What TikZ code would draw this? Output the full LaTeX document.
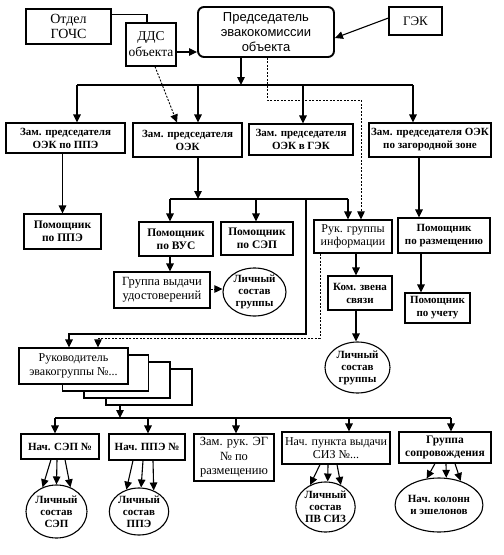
\documentclass[tikz,border=0pt]{standalone}
\usepackage{fontspec}
\setmainfont{Liberation Serif}
\setsansfont{Liberation Sans}
\usetikzlibrary{arrows.meta,calc,shapes.geometric}
\begin{document}
\begin{tikzpicture}[x=1pt,y=-1pt,
  sz/.style 2 args={minimum width=#1pt,minimum height=#2pt},
  box/.style={draw,line width=1.1pt,align=center,inner sep=1pt,fill=white},
  bb/.style={box,font=\bfseries\fontsize{11}{13}\selectfont},
  rb/.style={box,font=\fontsize{12}{13.5}\selectfont},
  circ/.style={draw,ellipse,line width=1.1pt,align=center,inner sep=0pt,fill=white,font=\bfseries\fontsize{11}{12}\selectfont},
  tip/.style={-{Triangle[length=8pt,width=7.5pt]}},
  arr/.style={line width=1.1pt,tip},
  ln/.style={line width=1.1pt},
  dsh/.style={line width=0.9pt,dash pattern=on 2pt off 1.5pt,tip},
]
\useasboundingbox (0,0) rectangle (504,555);
% top row
\node[box,sz={85}{35},font=\fontsize{14}{15}\selectfont] (gochs) at (68.5,26.5) {Отдел\\ГОЧС};
\node[box,sz={50}{43},font=\fontsize{13.5}{16}\selectfont] (dds) at (151,44.5) {ДДС\\объекта};
\node[box,sz={136}{50},line width=1.9pt,rounded corners=6pt,font=\sffamily\fontsize{13}{15}\selectfont] (pred) at (266,32) {Председатель\\эвакокомиссии\\объекта};
\node[box,sz={53}{28},font=\fontsize{13}{15}\selectfont] (gek) at (415.5,21) {ГЭК};
% deputies
\node[bb,sz={119}{30}] (z1) at (65.5,138) {Зам. председателя\\ОЭК по ППЭ};
\node[bb,sz={109}{34}] (z2) at (187.5,140) {Зам. председателя\\ОЭК};
\node[bb,sz={104}{31}] (z3) at (301,139.5) {Зам. председателя\\ОЭК в ГЭК};
\node[bb,sz={122}{34}] (z4) at (430,140) {Зам. председателя ОЭК\\по загородной зоне};
% assistants
\node[bb,sz={77}{35},font=\bfseries\fontsize{11.5}{13}\selectfont] (pppe) at (62.5,231.5) {Помощник\\по ППЭ};
\node[bb,sz={74}{34},font=\bfseries\fontsize{11.5}{13}\selectfont] (vus) at (176,239) {Помощник\\по ВУС};
\node[bb,sz={72}{33},font=\bfseries\fontsize{11.5}{13}\selectfont] (sep) at (257,238.5) {Помощник\\по СЭП};
\node[rb,sz={78}{33}] (info) at (353,236.5) {Рук. группы\\информации};
\node[bb,sz={92}{35}] (razm) at (444,235.5) {Помощник\\по размещению};
\node[rb,sz={96}{36},font=\fontsize{12.5}{14}\selectfont] (vyd) at (162,290) {Группа выдачи\\удостоверений};
\node[circ,sz={63}{47}] (lich1) at (254.5,292) {Личный\\состав\\группы};
\node[bb,sz={64}{34}] (kom) at (360,293) {Ком. звена\\связи};
\node[bb,sz={65}{30}] (uchet) at (437.5,308) {Помощник\\по учету};
\node[circ,sz={65}{51}] (lich2) at (357.5,367.5) {Личный\\состав\\группы};
% evac group leader stack
\node[box,sz={86}{36}] (r4) at (149,387) {};
\node[box,sz={86}{36}] (r3) at (127,380) {};
\node[box,sz={86}{36}] (r2) at (105.5,373) {};
\node[rb,sz={109}{36}] (ruk) at (73.5,366) {Руководитель\\эвакогруппы №...};
% bottom row
\node[bb,sz={78}{25}] (b1) at (60,446.5) {Нач. СЭП №};
\node[bb,sz={76}{26}] (b2) at (147,447) {Нач. ППЭ №};
\node[rb,sz={80}{47},font=\fontsize{12.5}{14.5}\selectfont] (b3) at (234,457.5) {Зам. рук. ЭГ\\№ по\\размещению};
\node[rb,sz={108}{32}] (b4) at (336,448) {Нач. пункта выдачи\\СИЗ №...};
\node[bb,sz={92}{31},font=\bfseries\fontsize{11.5}{13.5}\selectfont] (b5) at (445,447.5) {Группа\\сопровождения};
\node[circ,sz={61}{53}] (c1) at (56.5,511.5) {Личный\\состав\\СЭП};
\node[circ,sz={56}{47}] (c2) at (139,511.5) {Личный\\состав\\ППЭ};
\node[circ,sz={57}{50}] (c3) at (325.5,507) {Личный\\состав\\ПВ СИЗ};
\node[circ,sz={62}{54}] (c4) at (439,505) {Нач. колонн\\и эшелонов};
% top connectors
\draw[ln] ([yshift=-6pt]gochs.north east) -| ([xshift=-4pt]dds.north);
\draw[arr] ([yshift=-7.5pt]dds.east) -- ([yshift=-7.5pt]dds.east -| pred.west);
\draw[arr] ([yshift=3pt]gek.west) -- ([yshift=-6pt]pred.east);
\coordinate (b1m) at (241,85);
\coordinate (b1l) at (77,85);
\coordinate (b1b) at (198,85);
\coordinate (b1c) at (303,85);
\coordinate (b1r) at (413,85);
\draw[arr] (pred.south -| b1m) -- (b1m);
\draw[ln] (b1l) -- (b1r);
\draw[arr] (b1l) -- (b1l |- z1.north);
\draw[arr] (b1b) -- (b1b |- z2.north);
\draw[arr] (b1c) -- (b1c |- z3.north);
\draw[arr] (b1r) -- (b1r |- z4.north);
\coordinate (d1) at (267,100);
\coordinate (d2) at (361,100);
\draw[dsh] (pred.south -| d1) -- (d1) -- (d2) -- (d2 |- info.north);
\draw[dsh] ([xshift=4pt]dds.south) -- ([xshift=-10.5pt]z2.north);
% middle connectors
\draw[arr] (z1.south -| pppe.north) -- (pppe.north);
\coordinate (b2m) at (198,199);
\coordinate (b2l) at (170,199);
\coordinate (b2s) at (256,199);
\coordinate (b2t) at (306,199);
\coordinate (b2r) at (348,199);
\draw[arr] (z2.south -| b2m) -- (b2m);
\draw[ln] (b2l) -- (b2r);
\draw[arr] (b2l) -- (b2l |- vus.north);
\draw[arr] (b2s) -- (b2s |- sep.north);
\draw[arr] (b2r) -- (b2r |- info.north);
\coordinate (s1) at (306,334);
\coordinate (s2) at (69,334);
\draw[arr] (b2t) -- (s1) -- (s2) -- (s2 |- ruk.north);
\coordinate (q1) at (320,338);
\coordinate (q2) at (98,338);
\draw[dsh] (info.south -| q1) -- (q1) -- (q2) -- (q2 |- ruk.north);
\draw[arr] ([xshift=3pt]info.south) -- ([xshift=3pt]info.south |- kom.north);
\draw[arr] ([xshift=-4pt]kom.south) -- ([xshift=-4pt]kom.south |- lich2.north);
\draw[arr] ([xshift=-11pt]z4.south) -- ([xshift=-11pt]z4.south |- razm.north);
\draw[arr] ([xshift=-23pt]razm.south) -- ([xshift=-23pt]razm.south |- uchet.north);
\draw[arr] ([xshift=-6pt]vus.south) -- ([xshift=-6pt]vus.south |- vyd.north);
\draw[dsh] ([yshift=1pt]vyd.east) -- ([yshift=1pt]vyd.east -| lich1.west);
% bottom connectors
\coordinate (b3m) at (120,418);
\coordinate (b3l) at (55,418);
\coordinate (b3b) at (148,418);
\coordinate (b3c) at (236,418);
\coordinate (b3d) at (349,418);
\coordinate (b3r) at (451,418);
\draw[arr] (r4.south -| b3m) -- (b3m);
\draw[ln] (b3l) -- (b3r);
\draw[arr] (b3l) -- (b3l |- b1.north);
\draw[arr] (b3b) -- (b3b |- b2.north);
\draw[arr] (b3c) -- (b3c |- b3.north);
\draw[arr] (b3d) -- (b3d |- b4.north);
\draw[arr] (b3r) -- (b3r |- b5.north);
% fans
\draw[arr] ([xshift=-9pt]b1.south) -- (c1.120);
\draw[arr] ([xshift=-3pt]b1.south) -- (c1.90);
\draw[arr] ([xshift=5pt]b1.south) -- (c1.60);
\draw[arr] ([xshift=-14pt]b2.south) -- (c2.120);
\draw[arr] ([xshift=-4pt]b2.south) -- (c2.85);
\draw[arr] ([xshift=6pt]b2.south) -- (c2.55);
\draw[arr] ([xshift=-16pt]b4.south) -- (c3.125);
\draw[arr] ([xshift=-8pt]b4.south) -- (c3.85);
\draw[arr] ([xshift=1pt]b4.south) -- (c3.55);
\draw[arr] ([xshift=-10pt]b5.south) -- (c4.115);
\draw[arr] ([xshift=1pt]b5.south) -- (c4.75);
\draw[arr] ([xshift=10pt]b5.south) -- (c4.48);
\end{tikzpicture}
\end{document}
